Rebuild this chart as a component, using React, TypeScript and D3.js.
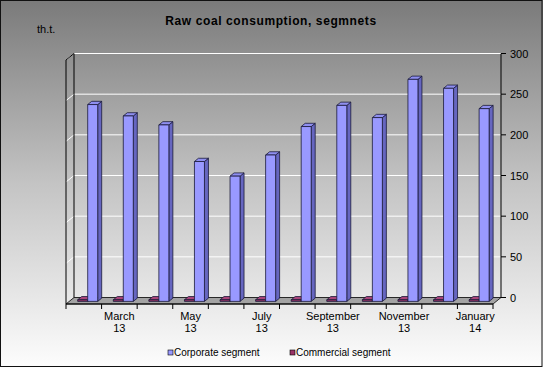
import * as d3 from "d3"

const months = ["February 13", "March 13", "April 13", "May 13", "June 13", "July 13",
  "August 13", "September 13", "October 13", "November 13", "December 13", "January 14"]
const tickLabels = ["", "March|13", "", "May|13", "", "July|13", "", "September|13", "", "November|13", "", "January|14"]
const corporate = [242, 228, 217, 172, 154, 180, 215, 241, 226, 273, 262, 237]
const commercial = [2, 2, 2, 2, 2, 2, 2, 2, 2, 2, 2, 2]
const yTicks = [0, 50, 100, 150, 200, 250, 300]

const W = 543
const H = 368
const DX = 8 // depth of the 3d box
const DY = -6.5
const F0 = 0.4 // bar front depth
const F1 = 0.9 // bar back depth
const font = "'Liberation Sans', Arial, sans-serif"

const App = () => {
  const x = d3.scaleBand<string>().domain(months).range([66, 493]).paddingInner(0)
  const y = d3.scaleLinear().domain([0, 300]).range([304, 60])
  const bw = x.bandwidth()
  const barW = 10

  const series = [
    { name: "Commercial segment", values: commercial, off: 8.5, face: "#993366", side: "#6b2247", top: "#a8447a" },
    { name: "Corporate segment", values: corporate, off: 18.5, face: "#9999ff", side: "#6666c0", top: "#8f8ff0" }
  ]

  const bars = months.flatMap((m, i) =>
    series.map(s => {
      const x0 = (x(m) as number) + s.off + DX * F0
      const x1 = x0 + barW
      const yb = y(0) + DY * F0
      const yt = y(s.values[i]) + DY * F0
      const ddx = DX * (F1 - F0)
      const ddy = DY * (F1 - F0)
      return { key: `${m}-${s.name}`, s, x0, x1, yb, yt, ddx, ddy }
    })
  )

  const back = (v: number) => y(v) + DY
  const xL = 66
  const xR = 493

  return (
    <svg width={W} height={H} style={{ position: "absolute", left: 0, top: 0 }} fontFamily={font}>
      <defs>
        <linearGradient id="bg" x1="0" y1="0" x2="0" y2="1">
          <stop offset="0" stopColor="#7a7a7a" />
          <stop offset="0.5" stopColor="#c4c4c4" />
          <stop offset="1" stopColor="#fdfdfd" />
        </linearGradient>
      </defs>
      <rect x={0} y={0} width={W} height={H} fill="url(#bg)" />
      <rect x={0.5} y={0.5} width={W - 1.5} height={366} fill="none" stroke="#111" />

      <text x={271} y={25} textAnchor="middle" fontSize={12} fontWeight="bold" letterSpacing={0.6} fill="#000">
        Raw coal consumption, segmnets
      </text>
      <text x={37} y={33} fontSize={11} fill="#000">th.t.</text>

      {/* gridlines: left wall + back wall */}
      {yTicks.filter(t => t > 0).map(t => (
        <g key={t}>
          <line x1={xL} y1={y(t)} x2={xL + DX} y2={back(t)} stroke="#fff" strokeWidth={1} />
          <line x1={xL + DX} y1={back(t)} x2={xR + DX} y2={back(t)} stroke="#fff" strokeWidth={1} />
        </g>
      ))}

      {/* walls outline */}
      <line x1={xL} y1={y(0)} x2={xL} y2={y(300)} stroke="#000" />
      <line x1={xL + DX} y1={back(0)} x2={xL + DX} y2={back(300)} stroke="#000" />
      <line x1={xL} y1={y(300)} x2={xL + DX} y2={back(300)} stroke="#000" />

      {/* floor */}
      <polygon
        points={`${xL},${y(0)} ${xR},${y(0)} ${xR + DX},${back(0)} ${xL + DX},${back(0)}`}
        fill="#a3a3a3" stroke="#000" strokeWidth={0.8}
      />

      {/* right value axis */}
      <line x1={xR + DX} y1={back(0)} x2={xR + DX} y2={back(300)} stroke="#000" />
      {yTicks.map(t => (
        <g key={t}>
          <line x1={xR + DX} y1={back(t)} x2={xR + DX + 5} y2={back(t)} stroke="#000" />
          <text x={xR + DX + 9} y={back(t) + 4} fontSize={11} fill="#000">{t}</text>
        </g>
      ))}

      {/* bars */}
      {bars.map(b => (
        <g key={b.key} stroke="#1a1a3a" strokeWidth={0.8} strokeLinejoin="round">
          <polygon
            points={`${b.x1},${b.yt} ${b.x1 + b.ddx},${b.yt + b.ddy} ${b.x1 + b.ddx},${b.yb + b.ddy} ${b.x1},${b.yb}`}
            fill={b.s.side}
          />
          <polygon
            points={`${b.x0},${b.yt} ${b.x1},${b.yt} ${b.x1 + b.ddx},${b.yt + b.ddy} ${b.x0 + b.ddx},${b.yt + b.ddy}`}
            fill={b.s.top}
          />
          <rect x={b.x0} y={b.yt} width={b.x1 - b.x0} height={Math.max(0.5, b.yb - b.yt)} fill={b.s.face} />
        </g>
      ))}

      {/* category axis */}
      <line x1={xL} y1={y(0)} x2={xR} y2={y(0)} stroke="#000" />
      {months.map(m => (
        <line key={m} x1={x(m) as number} y1={y(0)} x2={x(m) as number} y2={y(0) + 5} stroke="#000" />
      ))}
      <line x1={xR} y1={y(0)} x2={xR} y2={y(0) + 5} stroke="#000" />
      {months.map((m, i) => {
        const parts = tickLabels[i].split("|")
        if (!tickLabels[i]) return null
        const cx = (x(m) as number) + bw / 2
        return (
          <text key={m} x={cx} textAnchor="middle" fontSize={11} fill="#000">
            <tspan x={cx} y={320}>{parts[0]}</tspan>
            <tspan x={cx} y={332}>{parts[1]}</tspan>
          </text>
        )
      })}

      {/* legend */}
      {[
        { name: "Corporate segment", fill: "#9999ff", lx: 168 },
        { name: "Commercial segment", fill: "#993366", lx: 290 }
      ].map(l => (
        <g key={l.name}>
          <rect x={l.lx} y={350} width={5} height={5} fill={l.fill} stroke="#000" strokeWidth={0.6} />
          <text x={l.lx + 6} y={356} fontSize={10} fill="#000">{l.name}</text>
        </g>
      ))}
    </svg>
  )
}

export default App
